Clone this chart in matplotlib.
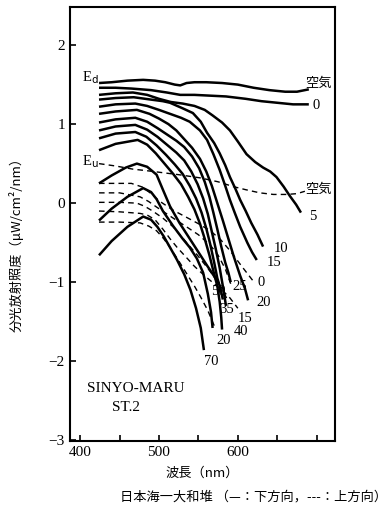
import matplotlib
matplotlib.use('Agg')
import matplotlib.pyplot as plt

# 下方向 Ed (solid): wavelength nm, log10 irradiance
ed_air = [(424, 1.52), (440, 1.53), (460, 1.55), (480, 1.56), (495, 1.55), (508, 1.53), (520, 1.50),
          (527, 1.49), (535, 1.52), (545, 1.53), (560, 1.53), (580, 1.52), (600, 1.50), (620, 1.46),
          (640, 1.43), (660, 1.41), (675, 1.41), (690, 1.44)]
ed_0 = [(424, 1.46), (445, 1.46), (465, 1.45), (490, 1.43), (510, 1.40), (527, 1.37), (545, 1.37),
        (565, 1.36), (585, 1.35), (610, 1.32), (630, 1.29), (650, 1.27), (670, 1.25), (690, 1.25)]
ed_5 = [(424, 1.37), (445, 1.39), (467, 1.40), (485, 1.37), (500, 1.32), (515, 1.28), (530, 1.26),
        (545, 1.23), (558, 1.18), (568, 1.11), (580, 1.02), (590, 0.92), (600, 0.78), (611, 0.62),
        (622, 0.52), (632, 0.45), (641, 0.40), (649, 0.33), (658, 0.21), (666, 0.09), (674, -0.02),
        (680, -0.12)]
ed_10 = [(424, 1.31), (445, 1.33), (468, 1.34), (490, 1.31), (505, 1.29), (514, 1.27), (530, 1.20),
         (543, 1.14), (553, 1.03), (561, 0.89), (570, 0.76), (577, 0.63), (584, 0.48), (590, 0.33),
         (597, 0.18), (603, 0.04), (610, -0.10), (617, -0.25), (625, -0.40), (632, -0.55)]
ed_15 = [(424, 1.22), (445, 1.25), (470, 1.26), (485, 1.23), (500, 1.18), (514, 1.13), (528, 1.08),
         (539, 1.03), (552, 0.92), (561, 0.80), (569, 0.62), (577, 0.42), (584, 0.22), (590, 0.04),
         (596, -0.12), (603, -0.30), (612, -0.50), (618, -0.62), (624, -0.72)]
ed_20 = [(424, 1.13), (445, 1.16), (472, 1.18), (488, 1.13), (500, 1.07), (512, 1.00), (522, 0.92),
         (532, 0.81), (542, 0.70), (552, 0.56), (560, 0.40), (567, 0.22), (574, 0.00), (581, -0.22),
         (588, -0.45), (595, -0.68), (603, -0.92), (609, -1.08), (613, -1.23)]
ed_25 = [(424, 1.02), (445, 1.06), (470, 1.08), (485, 1.03), (498, 0.95), (510, 0.87), (522, 0.79),
         (532, 0.71), (542, 0.59), (551, 0.44), (558, 0.27), (564, 0.08), (569, -0.12), (574, -0.33),
         (579, -0.55), (584, -0.75), (588, -0.88), (591, -1.00)]
ed_30 = [(424, 0.92), (445, 0.97), (470, 0.99), (485, 0.93), (498, 0.84), (510, 0.74), (522, 0.64),
         (532, 0.54), (541, 0.40), (549, 0.24), (556, 0.06), (562, -0.14), (567, -0.36), (572, -0.58),
         (577, -0.82), (581, -1.05), (585, -1.30)]
ed_35 = [(424, 0.82), (445, 0.88), (470, 0.90), (484, 0.84), (497, 0.73), (509, 0.61), (520, 0.49),
         (530, 0.37), (539, 0.22), (547, 0.06), (554, -0.12), (560, -0.32), (565, -0.52), (570, -0.75),
         (574, -0.95), (578, -1.08), (581, -1.22)]
ed_40 = [(424, 0.67), (445, 0.75), (473, 0.80), (485, 0.74), (496, 0.63), (507, 0.50), (518, 0.37),
         (528, 0.24), (537, 0.08), (545, -0.08), (552, -0.26), (558, -0.45), (564, -0.66), (569, -0.86),
         (574, -1.05), (577, -1.25), (579, -1.45), (580, -1.60)]
ed_50 = [(424, 0.25), (440, 0.35), (458, 0.45), (472, 0.50), (485, 0.46), (497, 0.36), (505, 0.17),
         (514, -0.04), (526, -0.25), (539, -0.45), (550, -0.62), (561, -0.79), (569, -0.91), (576, -1.02)]
ed_60 = [(424, -0.22), (440, -0.07), (460, 0.08), (480, 0.19), (490, 0.14), (497, 0.05), (505, -0.10),
         (518, -0.29), (530, -0.45), (539, -0.56), (548, -0.70), (556, -0.88), (562, -1.15), (566, -1.38),
         (568, -1.58)]
ed_70 = [(424, -0.66), (440, -0.48), (460, -0.30), (480, -0.17), (490, -0.21), (498, -0.30), (506, -0.42),
         (514, -0.56), (523, -0.72), (532, -0.90), (540, -1.10), (547, -1.33), (553, -1.58), (557, -1.86)]

# 上方向 Eu (dashed)
eu_air = [(424, 0.50), (445, 0.47), (467, 0.43), (485, 0.41), (501, 0.39), (525, 0.36), (552, 0.32),
          (575, 0.27), (594, 0.21), (610, 0.17), (628, 0.13), (645, 0.11), (662, 0.11), (675, 0.12), (685, 0.15)]
eu_0 = [(424, 0.25), (445, 0.25), (465, 0.25), (480, 0.20), (490, 0.12), (500, 0.03), (518, -0.09),
        (535, -0.18), (550, -0.26), (565, -0.35), (578, -0.46), (590, -0.60), (605, -0.80), (619, -0.98)]
eu_5 = [(424, 0.13), (450, 0.13), (476, 0.08), (487, 0.02), (497, -0.05), (515, -0.17), (535, -0.30),
        (550, -0.40), (565, -0.53), (575, -0.66), (584, -0.83), (592, -1.05)]
eu_10 = [(424, 0.01), (450, 0.01), (472, 0.00), (482, -0.04), (492, -0.10), (505, -0.19), (518, -0.30),
         (535, -0.50), (548, -0.65), (560, -0.80), (570, -0.93), (580, -1.08), (588, -1.25)]
eu_15 = [(424, -0.10), (450, -0.11), (476, -0.13), (485, -0.15), (495, -0.21), (505, -0.33), (514, -0.45),
         (523, -0.56), (535, -0.69), (545, -0.80), (558, -0.92), (570, -1.02), (580, -1.10), (590, -1.20),
         (600, -1.33)]
eu_20 = [(424, -0.24), (450, -0.24), (476, -0.25), (487, -0.29), (497, -0.35), (506, -0.45), (514, -0.56),
         (525, -0.73), (535, -0.89), (545, -1.05), (553, -1.19), (562, -1.36), (570, -1.55)]

ed_all = [ed_air, ed_0, ed_5, ed_10, ed_15, ed_20, ed_25, ed_30, ed_35, ed_40, ed_50, ed_60, ed_70]
eu_all = [eu_air, eu_0, eu_5, eu_10, eu_15, eu_20]

# curve labels: text, x (nm), y
labels = [("空気", 686, 1.52), ("0", 695, 1.24), ("空気", 686, 0.17), ("5", 690, -0.17),
          ("10", 646, -0.58), ("15", 637, -0.75), ("0", 625, -1.00), ("25", 593, -1.05),
          ("50", 566, -1.12), ("20", 624, -1.26), ("35", 577, -1.34), ("15", 600, -1.46),
          ("40", 595, -1.63), ("20", 573, -1.74), ("70", 557, -2.01)]

serif = 'Liberation Serif'
jp = ['Noto Sans CJK JP', 'DejaVu Sans']

fig = plt.figure(figsize=(3.88, 5.11), dpi=100)
ax = fig.add_axes([0.180, 0.137, 0.683, 0.849])

for c in ed_all:
    ax.plot([p[0] for p in c], [p[1] for p in c], color='black', lw=1.8,
            solid_joinstyle='round', solid_capstyle='butt')
for c in eu_all:
    ax.plot([p[0] for p in c], [p[1] for p in c], color='black', lw=1.0, dashes=(4, 3))

for t, x, y in labels:
    if t.isdigit():
        ax.text(x, y, t, fontsize=10.5, family=serif, ha='left', va='center')
    else:
        ax.text(x, y, t, fontsize=9.5, family=jp, ha='left', va='center')

ax.text(402, 1.59, r'E$_\mathrm{d}$', fontsize=10.5, family=serif, ha='left', va='center')
ax.text(402, 0.52, r'E$_\mathrm{u}$', fontsize=10.5, family=serif, ha='left', va='center')
ax.text(409, -2.35, 'SINYO-MARU', fontsize=11, family=serif, ha='left', va='center')
ax.text(458, -2.59, 'ST.2', fontsize=11, family=serif, ha='center', va='center')

ax.set_xlim(387, 723)
ax.set_ylim(-3.01, 2.48)
ax.set_xticks([400, 450, 500, 550, 600, 650, 700])
ax.set_xticklabels(['400', '', '500', '', '600', '', ''])
ax.set_yticks([-3, -2, -1, 0, 1, 2])
ax.set_yticklabels(['\u22123', '\u22122', '\u22121', '0', '1', '2'])
ax.tick_params(direction='in', length=4, width=1.2, labelsize=11)
for lab in ax.get_xticklabels() + ax.get_yticklabels():
    lab.set_family(serif)
for s in ax.spines.values():
    s.set_linewidth(1.5)

ax.set_xlabel('波長（nm）', family=jp, fontsize=9.5, labelpad=6)
ax.set_ylabel('分光放射照度（μW/cm²/nm）', family=jp, fontsize=9.5)
ax.yaxis.set_label_coords(-0.175, 0.46)
fig.text(0.998, 0.027, '日本海一大和堆 （—：下方向，---：上方向）', family=jp, fontsize=9.5,
         ha='right', va='center')

fig.savefig('out.png', dpi=100)
